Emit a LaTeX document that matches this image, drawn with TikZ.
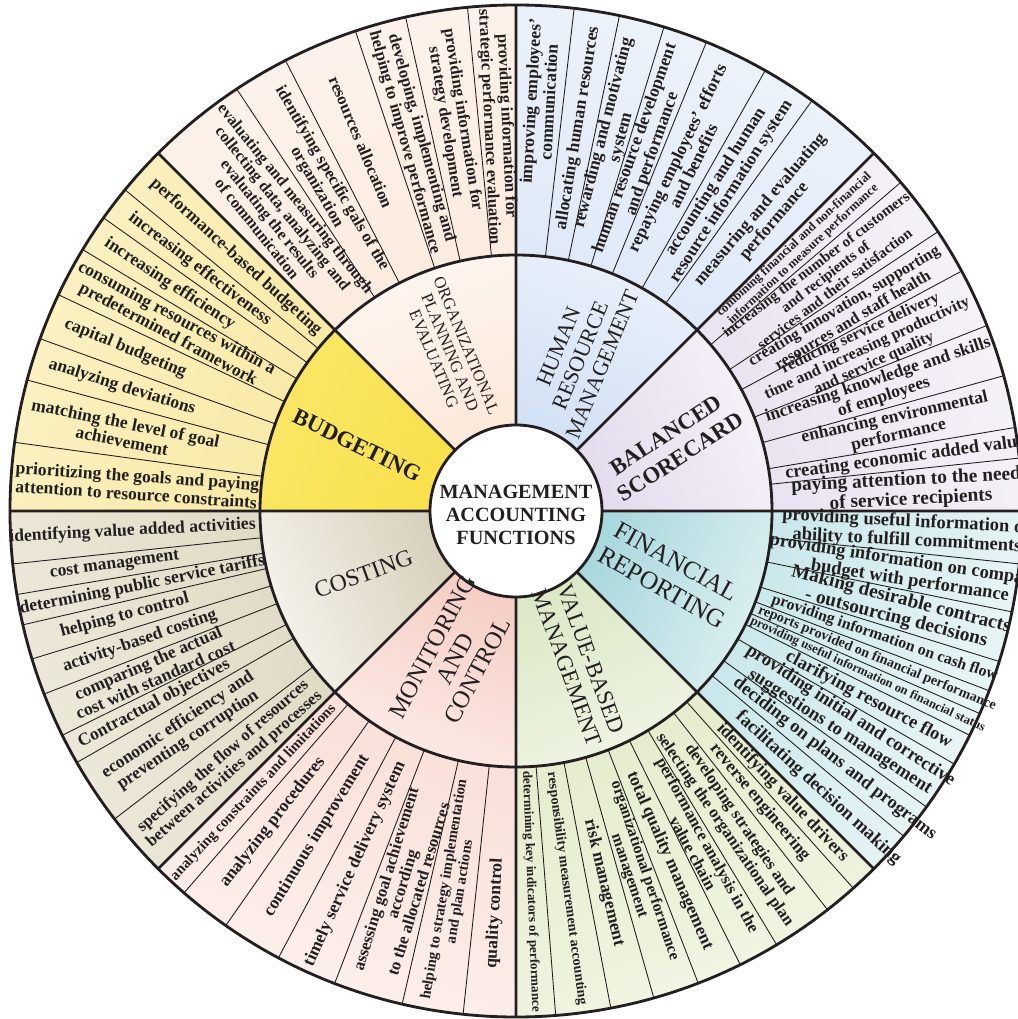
\documentclass[tikz,border=0pt]{standalone}
\usepackage{fontspec}
\setmainfont{Liberation Serif}
\newcommand{\fsz}[2]{\fontsize{#1}{#2}\selectfont}
% one piece of a ring: start, end, inner radius, outer radius, colour near centre, colour at rim
\newcommand{\ringpart}[6]{%
  \pgfmathsetmacro{\shadeangle}{(#1+#2)/2-90}%
  \shade[bottom color=#5, top color=#6, shading angle=\shadeangle]
    (#1:#3) arc[start angle=#1, end angle=#2, radius=#3]
    -- (#2:#4) arc[start angle=#2, end angle=#1, radius=#4] -- cycle;}
\definecolor{ink}{HTML}{231F20}
\definecolor{orgA}{HTML}{FBE5D4}\definecolor{orgB}{HTML}{FEF6F0}
\definecolor{orgC}{HTML}{FCEADD}\definecolor{orgD}{HTML}{FDF4EE}
\definecolor{hrA}{HTML}{CCDDF3}\definecolor{hrB}{HTML}{E9F0FA}
\definecolor{hrC}{HTML}{DEE8F7}\definecolor{hrD}{HTML}{EFF4FB}
\definecolor{bscA}{HTML}{E0D6EA}\definecolor{bscB}{HTML}{F5F1F8}
\definecolor{bscC}{HTML}{E9E1F0}\definecolor{bscD}{HTML}{F7F4F9}
\definecolor{frA}{HTML}{9AD1D7}\definecolor{frB}{HTML}{DCEFF1}
\definecolor{frC}{HTML}{C6E6EA}\definecolor{frD}{HTML}{EEF7F8}
\definecolor{vbmA}{HTML}{D6E5BF}\definecolor{vbmB}{HTML}{EEF4E3}
\definecolor{vbmC}{HTML}{E4ECCC}\definecolor{vbmD}{HTML}{F2F5E4}
\definecolor{monA}{HTML}{F3C6BC}\definecolor{monB}{HTML}{FCEBE6}
\definecolor{monC}{HTML}{F9DFD8}\definecolor{monD}{HTML}{FDF1ED}
\definecolor{cosA}{HTML}{D0C7AF}\definecolor{cosB}{HTML}{F6F3EC}
\definecolor{cosC}{HTML}{E0D9C4}\definecolor{cosD}{HTML}{EEEADC}
\definecolor{budA}{HTML}{F8DF45}\definecolor{budB}{HTML}{FAE766}
\definecolor{budC}{HTML}{F8E9A4}\definecolor{budD}{HTML}{FBF2C6}

\begin{document}
\begin{tikzpicture}[
    x=0.2mm, y=0.2mm,
    item/.style={font=\bfseries\fsz{10}{10.4}, align=center, inner sep=0pt, text=ink},
    hub/.style={font=\fsz{13}{15}, align=center, inner sep=0pt, text=ink},
    divline/.style={line width=0.5pt, draw=ink},
    secline/.style={line width=1.6pt, draw=ink},
]
\useasboundingbox (-516,-508) rectangle (501,511);

\ringpart{90}{135}{0}{256}{orgA}{orgB}
\ringpart{90}{135}{256}{506}{orgC}{orgD}
\ringpart{45}{90}{0}{256}{hrA}{hrB}
\ringpart{45}{90}{256}{506}{hrC}{hrD}
\ringpart{0}{45}{0}{256}{bscA}{bscB}
\ringpart{0}{45}{256}{506}{bscC}{bscD}
\ringpart{-45}{0}{0}{256}{frA}{frB}
\ringpart{-45}{0}{256}{506}{frC}{frD}
\ringpart{-90}{-45}{0}{256}{vbmA}{vbmB}
\ringpart{-90}{-45}{256}{506}{vbmC}{vbmD}
\ringpart{225}{270}{0}{256}{monA}{monB}
\ringpart{225}{270}{256}{506}{monC}{monD}
\ringpart{180}{225}{0}{256}{cosA}{cosB}
\ringpart{180}{225}{256}{506}{cosC}{cosD}
\ringpart{135}{180}{0}{256}{budA}{budB}
\ringpart{135}{180}{256}{506}{budC}{budD}

% dividers between the items of each function
\draw[divline] (95.5:256) -- (95.5:506) (102.6:256) -- (102.6:506) (108.5:256) -- (108.5:506)
  (117.1:256) -- (117.1:506) (123.5:256) -- (123.5:506);
\draw[divline] (83.4:256) -- (83.4:506) (78.2:256) -- (78.2:506) (73:256) -- (73:506)
  (67.9:256) -- (67.9:506) (60.5:256) -- (60.5:506) (54.2:256) -- (54.2:506);
\draw[divline] (40.5:256) -- (40.5:506) (33.5:256) -- (33.5:506) (28.3:256) -- (28.3:506)
  (21.5:256) -- (21.5:506) (15.5:256) -- (15.5:506) (9.5:256) -- (9.5:506) (6:256) -- (6:506);
\draw[divline] (-6:256) -- (-6:506) (-11.5:256) -- (-11.5:506) (-17.3:256) -- (-17.3:506)
  (-20.8:256) -- (-20.8:506) (-23.6:256) -- (-23.6:506) (-26.3:256) -- (-26.3:506)
  (-30:256) -- (-30:506) (-35.8:256) -- (-35.8:506) (-40:256) -- (-40:506);
\draw[divline] (-85.5:256) -- (-85.5:506) (-79.2:256) -- (-79.2:506) (-74.2:256) -- (-74.2:506)
  (-68.9:256) -- (-68.9:506) (-63.7:256) -- (-63.7:506) (-59:256) -- (-59:506)
  (-52:256) -- (-52:506) (-48.2:256) -- (-48.2:506);
\draw[divline] (229:256) -- (229:506) (235:256) -- (235:506) (242:256) -- (242:506)
  (249:256) -- (249:506) (257:256) -- (257:506) (264:256) -- (264:506);
\draw[divline] (186:256) -- (186:506) (189.5:256) -- (189.5:506) (193:256) -- (193:506)
  (197:256) -- (197:506) (201.2:256) -- (201.2:506) (206.3:256) -- (206.3:506)
  (209.8:256) -- (209.8:506) (217.5:256) -- (217.5:506);
\draw[divline] (140.6:256) -- (140.6:506) (144.6:256) -- (144.6:506) (148.9:256) -- (148.9:506)
  (154.7:256) -- (154.7:506) (160.1:256) -- (160.1:506) (165:256) -- (165:506) (172.2:256) -- (172.2:506);

% function borders and rings
\draw[secline] (0:86) -- (0:506) (45:86) -- (45:506) (90:86) -- (90:506) (135:86) -- (135:506)
  (180:86) -- (180:506) (225:86) -- (225:506) (270:86) -- (270:506) (315:86) -- (315:506);
\draw[secline] (0,0) circle[radius=256];
\draw[secline] (0,0) circle[radius=506];
\filldraw[fill=white, secline] (0,0) circle[radius=86];

\node[font=\bfseries\fsz{11.5}{13.2}, align=center, text=ink] (maf) at (0,-4) {MANAGEMENT\\ACCOUNTING\\FUNCTIONS};

\node[hub, font=\fsz{9.5}{10}, rotate=-67.5] (orglab) at (112.5:172) {ORGANIZATIONAL\\PLANNING AND\\EVALUATING};
\node[hub, font=\fsz{12.5}{13.5}, rotate=67.5] (hrlab) at (67.5:168) {HUMAN\\RESOURCE\\MANAGEMENT};
\node[hub, font=\bfseries\fsz{13}{15}, rotate=33] (bsclab) at (22.5:170) {BALANCED\\SCORECARD};
\node[hub, font=\fsz{14.5}{17}, rotate=-29] (frlab) at (-22.5:166) {FINANCIAL\\REPORTING};
\node[hub, font=\fsz{13}{14.5}, rotate=-70] (vbmlab) at (-67.5:165) {VALUE-BASED\\MANAGEMENT};
\node[hub, font=\fsz{14}{14.5}, rotate=62] (monlab) at (-112.5:160) {MONITORING\\AND\\CONTROL};
\node[hub, font=\fsz{13.5}{15}, rotate=20] (coslab) at (202.5:165) {COSTING};
\node[hub, font=\bfseries\fsz{13}{15}, rotate=-26] (budlab) at (157.5:172) {BUDGETING};

% organizational planning and evaluating
\node[item, font=\bfseries\fsz{9.5}{10}, rotate=-87.25] (org1) at (92.75:385) {providing information for\\strategic performance evaluation};
\node[item, font=\bfseries\fsz{9.5}{10}, rotate=-80.95] (org2) at (99.05:395) {providing information for\\strategy development};
\node[item, font=\bfseries\fsz{9.5}{10}, rotate=-74.45] (org3) at (105.55:385) {developing, implementing and\\helping to improve performance};
\node[item, font=\bfseries\fsz{9.5}{10}, rotate=-67.2] (org4) at (112.8:400) {resources allocation};
\node[item, font=\bfseries\fsz{9.5}{10}, rotate=-59.7] (org5) at (120.3:380) {identifying specific gals of the\\organization};
\node[item, font=\bfseries\fsz{9.2}{9.4}, rotate=-51.2] (org6) at (128.8:382) {evaluating and measuring through\\collecting data, analyzing and\\evaluating the results\\of communication};

% human resource management
\node[item, rotate=86.7] (hr1) at (86.7:410) {improving employees'\\communication};
\node[item, rotate=80.8] (hr2) at (80.8:388) {allocating human resources};
\node[item, rotate=75.6] (hr3) at (75.6:388) {rewarding and motivating\\system};
\node[item, rotate=70.45] (hr4) at (70.45:382) {human resource development\\and performance};
\node[item, rotate=64.2] (hr5) at (64.2:388) {repaying employees' efforts\\and benefits};
\node[item, rotate=57.35] (hr6) at (57.35:385) {accounting and human\\resource information system};
\node[item, rotate=49.6] (hr7) at (49.6:388) {measuring and evaluating\\performance};

% balanced scorecard
\node[item, font=\bfseries\fsz{7.2}{7.6}, rotate=42.75] (bsc1) at (42.75:385) {combining financial and non-financial\\information to measure performance};
\node[item, font=\bfseries\fsz{8.6}{8.8}, rotate=37.2] (bsc2) at (37.2:388) {increasing the number of customers\\and recipients of\\services and their satisfaction};
\node[item, font=\bfseries\fsz{9.3}{9.6}, rotate=30.9] (bsc3) at (30.9:387) {creating innovation, supporting\\resources and staff health};
\node[item, font=\bfseries\fsz{9.2}{9.4}, rotate=24.8] (bsc4) at (24.8:387) {reducing service delivery\\time and increasing productivity\\and service quality};
\node[item, rotate=18.5] (bsc5) at (18.5:385) {increasing knowledge and skills\\of employees};
\node[item, rotate=12.5] (bsc6) at (12.5:390) {enhancing environmental\\performance};
\node[item, font=\bfseries\fsz{10.5}{11}, rotate=7.75] (bsc7) at (7.75:393) {creating economic added value};
\node[item, font=\bfseries\fsz{11}{11.2}, rotate=3] (bsc8) at (3:395) {paying attention to the needs\\of service recipients};

% financial reporting
\node[item, font=\bfseries\fsz{10.5}{10.8}, rotate=-3] (fr1) at (-3:392) {providing useful information on\\ability to fulfill commitments};
\node[item, font=\bfseries\fsz{10.5}{10.8}, rotate=-8.75] (fr2) at (-8.75:400) {providing information on comparing\\budget with performance};
\node[item, font=\bfseries\fsz{11}{11}, rotate=-14.4] (fr3) at (-14.4:395) {Making desirable contracts\\- outsourcing decisions};
\node[item, font=\bfseries\fsz{9}{9.4}, rotate=-19.05] (fr4) at (-19.05:390) {providing information on cash flow};
\node[item, font=\bfseries\fsz{8}{8.4}, rotate=-22.2] (fr5) at (-22.2:390) {reports provided on financial performance};
\node[item, font=\bfseries\fsz{7.2}{7.6}, rotate=-24.95] (fr6) at (-24.95:388) {providing useful information on financial status};
\node[item, font=\bfseries\fsz{10.5}{11}, rotate=-28.15] (fr7) at (-28.15:400) {clarifying resource flow};
\node[item, font=\bfseries\fsz{10.5}{10.8}, rotate=-32.9] (fr8) at (-32.9:392) {providing initial and corrective\\suggestions to management};
\node[item, font=\bfseries\fsz{10.5}{11}, rotate=-37.9] (fr9) at (-37.9:404) {deciding on plans and programs};
\node[item, font=\bfseries\fsz{10.5}{11}, rotate=-42.5] (fr10) at (-42.5:410) {facilitating decision making};

% value-based management
\node[item, font=\bfseries\fsz{7.5}{8}, rotate=-87.75] (vbm1) at (-87.75:381) {determining key indicators of performance};
\node[item, font=\bfseries\fsz{8}{8.4}, rotate=-82.35] (vbm2) at (-82.35:381) {responsibility measurement accounting};
\node[item, rotate=-76.7] (vbm3) at (-76.7:382) {risk management};
\node[item, font=\bfseries\fsz{9}{9.4}, rotate=-71.55] (vbm4) at (-71.55:382) {organizational performance\\management};
\node[item, rotate=-66.3] (vbm5) at (-66.3:382) {total quality management};
\node[item, font=\bfseries\fsz{9.5}{9.8}, rotate=-61.35] (vbm6) at (-61.35:385) {performance analysis in the\\value chain};
\node[item, font=\bfseries\fsz{9.5}{10}, rotate=-55.5] (vbm7) at (-55.5:381) {developing strategies and\\selecting the organizational plan};
\node[item, rotate=-50.1] (vbm8) at (-50.1:380) {reverse engineering};
\node[item, rotate=-46.6] (vbm9) at (-46.6:388) {identifying value drivers};

% monitoring and control
\node[item, font=\bfseries\fsz{8.5}{9}, rotate=47] (mon1) at (227:385) {analyzing constraints and limitations};
\node[item, rotate=52] (mon2) at (232:395) {analyzing procedures};
\node[item, rotate=58.5] (mon3) at (238.5:381) {continuous improvement};
\node[item, rotate=65.5] (mon4) at (245.5:388) {timely service delivery system};
\node[item, font=\bfseries\fsz{9.5}{9.8}, rotate=73] (mon5) at (253:390) {assessing goal achievement\\according\\to the allocated resources};
\node[item, font=\bfseries\fsz{8.5}{9}, rotate=80.5] (mon6) at (260.5:385) {helping to strategy implementation\\and plan actions};
\node[item, rotate=87] (mon7) at (267:403) {quality control};

% costing
\node[item, rotate=3] (cos1) at (183:384) {identifying value added activities};
\node[item, rotate=7.75] (cos2) at (187.75:405) {cost management};
\node[item, rotate=11.25] (cos3) at (191.25:381) {determining public service tariffs};
\node[item, rotate=15] (cos4) at (195:405) {helping to control};
\node[item, rotate=19.1] (cos5) at (199.1:398) {activity-based costing};
\node[item, rotate=23.75] (cos6) at (203.75:398) {comparing the actual\\cost with standard cost};
\node[item, rotate=28.05] (cos7) at (208.05:410) {Contractual objectives};
\node[item, rotate=33.65] (cos8) at (213.65:400) {economic efficiency and\\preventing corruption};
\node[item, font=\bfseries\fsz{9.5}{9.8}, rotate=41.25] (cos9) at (221.25:382) {specifying the flow of resources\\between activities and processes};

% budgeting
\node[item, rotate=-42.2] (bud1) at (137.8:378) {performance-based budgeting};
\node[item, rotate=-37.4] (bud2) at (142.6:398) {increasing effectiveness};
\node[item, rotate=-33.25] (bud3) at (146.75:414) {increasing efficiency};
\node[item, rotate=-28.2] (bud4) at (151.8:390) {consuming resources within a\\predetermined framework};
\node[item, rotate=-22.6] (bud5) at (157.4:423) {capital budgeting};
\node[item, rotate=-17.45] (bud6) at (162.55:413) {analyzing deviations};
\node[item, rotate=-11.4] (bud7) at (168.6:400) {matching the level of goal\\achievement};
\node[item, rotate=-3.9] (bud8) at (176.1:380) {prioritizing the goals and paying\\attention to resource constraints};
\end{tikzpicture}
\end{document}
